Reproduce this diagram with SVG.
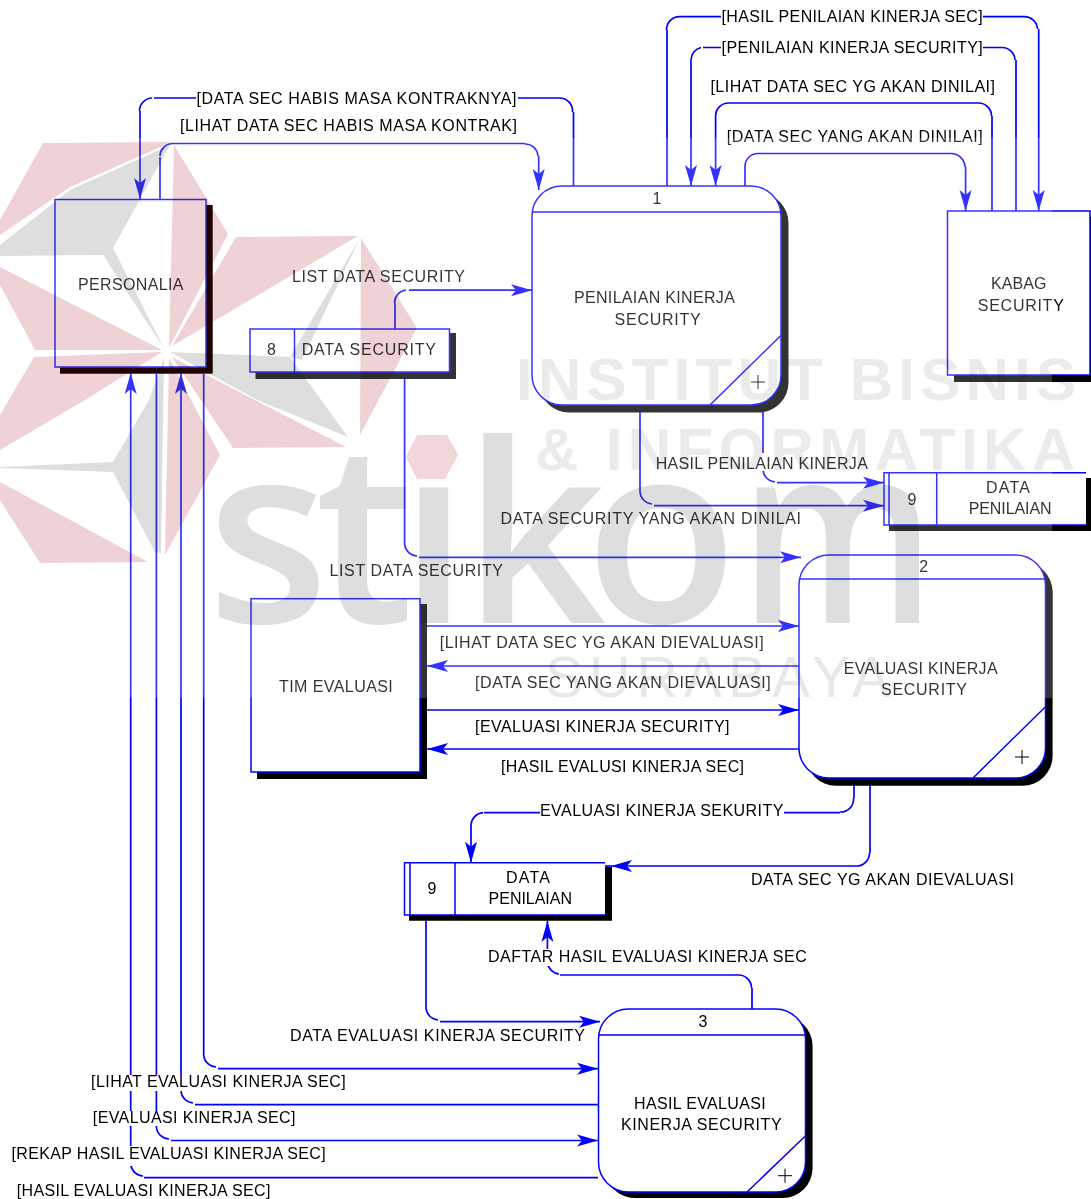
<svg xmlns="http://www.w3.org/2000/svg" width="1091" height="1199" viewBox="0 0 1091 1199">
<style>
text{font-family:"Liberation Sans",Arial,sans-serif;font-size:16px;fill:#000}
.m{text-anchor:middle}
.box{fill:#fff;stroke:#00f;stroke-width:1.5}
.sh{fill:#000;stroke:none}
.in{fill:none;stroke:#00f;stroke-width:1.5}
.plus{fill:none;stroke:#000;stroke-width:1}
.c{fill:none;stroke:#00f;stroke-width:1.7}
.a{marker-end:url(#arrow)}
.bg{fill:#fff}
.mul{mix-blend-mode:multiply}
.r{fill:#efd2d6}
.g{fill:#dedede}
.w1{font-weight:700;font-size:60px;fill:#ebebeb}
.w2{font-size:57px;fill:#e8e8e8}
.w3{font-family:"Open Sans","Liberation Sans",sans-serif;font-weight:600;font-size:250px;fill:#dedede}
</style>
<defs>
<marker id="arrow" markerUnits="userSpaceOnUse" markerWidth="22" markerHeight="14" refX="21" refY="7" orient="auto"><path d="M21 7L0 1L5 7L0 13Z" fill="#00f"/></marker>
</defs>
<rect width="1091" height="1199" fill="#fff"/>

<g id="node-personalia">
<rect class="sh" x="60" y="205" width="152.500" height="168.500"/>
<rect class="box" x="55" y="199.500" width="151" height="167.500"/>
<text x="78" y="290" textLength="105.500">PERSONALIA</text>
</g>
<g id="node-store-8">
<path class="sh" d="M255.500 333H456V379H255.500Z"/>
<path d="M449.500 329H250V372H449.500Z" fill="#fff" stroke="#00f" stroke-width="1.500"/>
<path class="in" d="M294.500 329V372"/>
<text class="m" x="271.500" y="355">8</text>
<text x="301.700" y="355" textLength="134.300">DATA SECURITY</text>
</g>
<g id="node-process-1">
<rect class="sh" x="539" y="193" width="249.500" height="219.500" rx="30"/>
<rect class="box" x="532" y="186" width="249" height="219" rx="30"/>
<path class="in" d="M532 212H781M781.400 335L710 405"/>
<path class="plus" d="M751 382H765M758 375V389"/>
<text class="m" x="657" y="204">1</text>
<text x="574" y="303.300" textLength="160.800">PENILAIAN KINERJA</text>
<text x="614.600" y="325" textLength="86">SECURITY</text>
</g>
<g id="node-kabag">
<rect class="sh" x="954" y="217" width="137" height="165"/>
<rect class="box" x="947.500" y="211" width="142.500" height="164"/>
<text x="991" y="289.300" textLength="55.400">KABAG</text>
<text x="977.800" y="310.700" textLength="86">SECURITY</text>
</g>
<g id="node-store-9a">
<path class="sh" d="M889 478H1091V531H889Z"/>
<path d="M1086 472.700H884V525H1086" fill="#fff" stroke="#00f" stroke-width="1.500"/>
<path class="in" d="M889 472.700V525M936.700 472.700V525"/>
<text class="m" x="912" y="505">9</text>
<text x="986" y="493.300" textLength="44">DATA</text>
<text x="968.700" y="514.300" textLength="82.900">PENILAIAN</text>
</g>
<g id="node-process-2">
<rect class="sh" x="806" y="562" width="246.600" height="223.700" rx="30"/>
<rect class="box" x="799" y="555" width="246.500" height="223" rx="30"/>
<path class="in" d="M799 579H1045.500M1045.500 706.700L973 778"/>
<path class="plus" d="M1015 757H1029M1022 750V764"/>
<text class="m" x="923.800" y="571.700">2</text>
<text x="843.700" y="674.300" textLength="153.900">EVALUASI KINERJA</text>
<text x="881" y="695" textLength="86">SECURITY</text>
</g>
<g id="node-tim-evaluasi">
<rect class="sh" x="257" y="604" width="170" height="175"/>
<rect class="box" x="251" y="598.700" width="169" height="173.300"/>
<text x="279" y="691.700" textLength="113.800">TIM EVALUASI</text>
</g>
<g id="node-store-9b">
<path class="sh" d="M409 867H612V920.700H409Z"/>
<path d="M605 862.700H404.500V915H605" fill="#fff" stroke="#00f" stroke-width="1.500"/>
<path class="in" d="M410 862.700V915M455 862.700V915"/>
<text class="m" x="432" y="894.300">9</text>
<text x="506" y="883.300" textLength="44">DATA</text>
<text x="488.600" y="904.300" textLength="83.400">PENILAIAN</text>
</g>
<g id="node-process-3">
<rect class="sh" x="605" y="1016" width="207.600" height="182" rx="30"/>
<rect class="box" x="598.500" y="1009" width="207" height="183" rx="30"/>
<path class="in" d="M598.500 1035H805.500M805.600 1135.700L747 1192"/>
<path class="plus" d="M778 1175.700H792M785 1168.700V1182.700"/>
<text class="m" x="703" y="1027.300">3</text>
<text x="634" y="1109.300" textLength="131.700">HASIL EVALUASI</text>
<text x="621" y="1130" textLength="160.600">KINERJA SECURITY</text>
</g>

<g id="connectors">
<path class="c a" d="M573.500 186V112M572.500 112A13 13 0 0 0 559.500 98H518M196 98H154M152 98A13 13 0 0 0 139.500 111M140 111V199"/>
<path class="c a" d="M160 199.500V157M160 156A13 13 0 0 1 172 143.500H525M525 144A13 13 0 0 1 538 156M538.700 156V190"/>
<path class="c a" d="M395 329V303M394.500 303A13 13 0 0 1 406 290M409 290.200H532"/>
<path class="c a" d="M404.600 379V544M404.600 544A13 13 0 0 0 417 556M419 557.300H801"/>
<path class="c" d="M667 186V30M666.500 30A13 13 0 0 1 680 16.700H721M983 16.700H1024M1024 16.700A13 13 0 0 1 1037.500 29"/>
<path class="c a" d="M1038.700 29V211"/>
<path class="c a" d="M1016 211V60M1015 60A13 13 0 0 0 1002 47.500H983M721 47.500H703M701 47.500A13 13 0 0 0 691 60M691 60V186"/>
<path class="c a" d="M992 211V116M991.500 116A13 13 0 0 0 978 103H729A13 13 0 0 0 715.600 116V186"/>
<path class="c a" d="M745 186V167M745 167A13 13 0 0 1 758 153.500H951A14 14 0 0 1 965 167M965.600 167V211"/>
<path class="c a" d="M763 412V470M763 470A13 13 0 0 0 775 482M777 482.700H884"/>
<path class="c a" d="M640 412V492M640 492A13 13 0 0 0 652 504M654 505.700H884"/>
<path class="c a" d="M427 626H799"/>
<path class="c a" d="M799 666H427"/>
<path class="c a" d="M427 710H799"/>
<path class="c a" d="M799 749H427"/>
<path class="c a" d="M854 785.700V798M853.500 798A13 13 0 0 1 840 812M840 812.700H784M540 812.700H484M483 812.700A13 13 0 0 0 471 825M471 825V862.700"/>
<path class="c" d="M611 866H605"/>
<path class="c a" d="M870 785.700V853M869.500 853A13 13 0 0 1 856 866H611"/>
<path class="c a" d="M426 920.700V1008M426 1008A13 13 0 0 0 438 1020M440 1021.700H600"/>
<path class="c a" d="M752 1009V988M751.500 988A13 13 0 0 0 738 975H560M559 974A13 13 0 0 1 547.500 962M547.400 962V921"/>
<path class="c a" d="M203.700 374V1056M203.700 1056A13 13 0 0 0 216 1067M218 1068.700H598"/>
<path class="c a" d="M598 1104.700H195M193 1103A13 13 0 0 1 181 1091M181 1091V373"/>
<path class="c a" d="M156.400 374V1127M156.400 1127A13 13 0 0 0 169 1139M171 1140.500H598"/>
<path class="c a" d="M598 1177.700H144M143 1176A13 13 0 0 1 130.700 1164M130.700 1164V373"/>
</g>

<g id="connector-labels">
<rect class="bg" x="655" y="453" width="213" height="18"/>
<rect class="bg" x="488" y="949" width="319" height="17"/>
<rect class="bg" x="91" y="1075" width="255" height="16"/>
<rect class="bg" x="93" y="1111" width="203" height="15"/>
<rect class="bg" x="11" y="1146" width="315" height="20"/>
<text x="196.400" y="104" textLength="320">[DATA SEC HABIS MASA KONTRAKNYA]</text>
<text x="180" y="131" textLength="337">[LIHAT DATA SEC HABIS MASA KONTRAK]</text>
<text x="292" y="281.500" textLength="173">LIST DATA SECURITY</text>
<text x="721.500" y="21.700" textLength="261.200">[HASIL PENILAIAN KINERJA SEC]</text>
<text x="721.500" y="53.300" textLength="261.200">[PENILAIAN KINERJA SECURITY]</text>
<text x="710.400" y="91.700" textLength="284.600">[LIHAT DATA SEC YG AKAN DINILAI]</text>
<text x="726.800" y="141.700" textLength="255.900">[DATA SEC YANG AKAN DINILAI]</text>
<text x="329.500" y="576" textLength="173.500">LIST DATA SECURITY</text>
<text x="439.700" y="648.300" textLength="324">[LIHAT DATA SEC YG AKAN DIEVALUASI]</text>
<text x="475" y="688.300" textLength="295.600">[DATA SEC YANG AKAN DIEVALUASI]</text>
<text x="475" y="732.300" textLength="254.500">[EVALUASI KINERJA SECURITY]</text>
<text x="501" y="771.700" textLength="243">[HASIL EVALUSI KINERJA SEC]</text>
<text x="655.700" y="469" textLength="212.100">HASIL PENILAIAN KINERJA</text>
<text x="500.500" y="524" textLength="300.500">DATA SECURITY YANG AKAN DINILAI</text>
<text x="540" y="816" textLength="243.400">EVALUASI KINERJA SEKURITY</text>
<text x="751" y="885.300" textLength="263">DATA SEC YG AKAN DIEVALUASI</text>
<text x="488" y="962.300" textLength="318.700">DAFTAR HASIL EVALUASI KINERJA SEC</text>
<text x="290" y="1040.700" textLength="295">DATA EVALUASI KINERJA SECURITY</text>
<text x="91" y="1087.300" textLength="254.800">[LIHAT EVALUASI KINERJA SEC]</text>
<text x="92.800" y="1123.300" textLength="202.700">[EVALUASI KINERJA SEC]</text>
<text x="11.500" y="1159.300" textLength="314.200">[REKAP HASIL EVALUASI KINERJA SEC]</text>
<text x="16.700" y="1196" textLength="253.700">[HASIL EVALUASI KINERJA SEC]</text>
</g>

<g id="watermark">
<rect x="0" y="138" width="1052" height="560" fill="#fff" opacity="0.2"/>
<g class="mul">
<polygon class="r" points="43,143 172,142 70,187 0,235 0,220"/>
<polygon class="r" points="174,145 228,234 169,348"/>
<polygon class="g" points="170,145 70,190 0,245 0,256 103,255 165,350 113,248"/>
<polygon class="r" points="0,267 162,350 35,350 0,285"/>
<polygon class="r" points="34,357 162,352 85,400 0,450 0,415"/>
<polygon class="g" points="170,352 290,357 348,437 257,400"/>
<polygon class="g" points="360,238 290,357 302,360"/>
<polygon class="r" points="172,357 346,447 233,448"/>
<polygon class="r" points="169,358 220,455 165,555"/>
<polygon class="g" points="164,358 161,553 155,552 113,472 0,468 0,467 113,462 149,400"/>
<polygon class="r" points="0,482 148,562 40,563 0,500"/>
<polygon class="r" points="236,237 358,236 172,346"/>
<polygon class="r" points="361,238 417,328 360,435"/>
</g>
<g class="mul">
<text class="w3" x="207 315 399 463 585" y="623">stiko</text>
<text class="w3" x="740" y="623" textLength="195" lengthAdjust="spacingAndGlyphs">m</text>
<text class="w1" x="516" y="400" textLength="560">INSTITUT BISNIS</text>
<text class="w1" x="535" y="470" textLength="540">&amp; INFORMATIKA</text>
<text class="w2" x="545" y="697" textLength="345">SURABAYA</text>
</g>
<polygon points="417,435 447,435 458,455 445,479 417,479 406,457" fill="#f1d6da"/>
<path d="M60 368H212.500V373.500H60ZM206.700 205H212.500V368H206.700Z" fill="#200000"/>
</g>
</svg>
